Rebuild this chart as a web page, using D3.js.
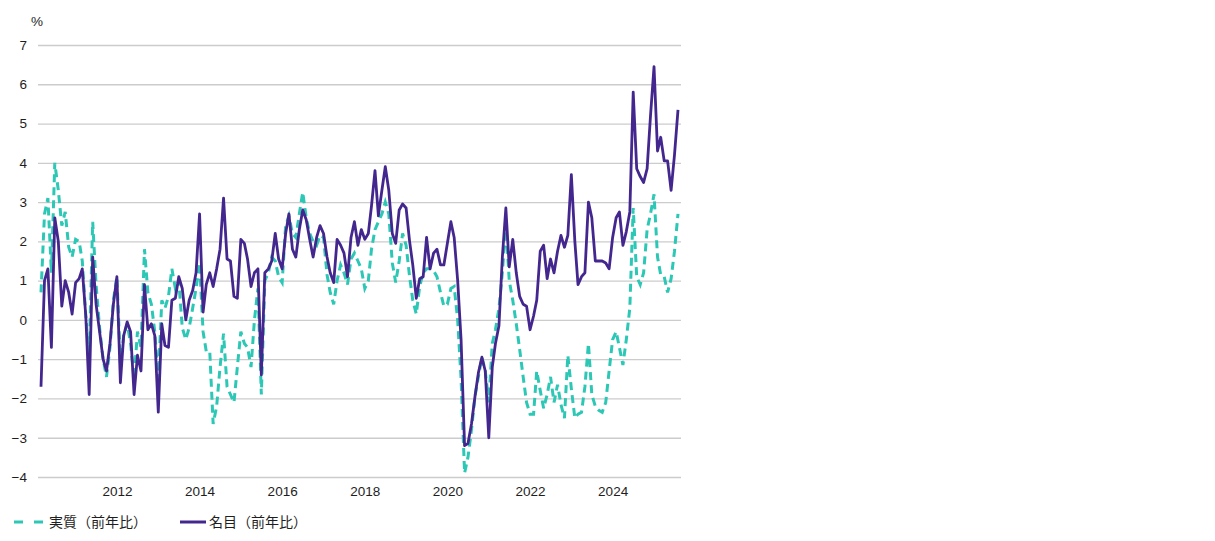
<!DOCTYPE html>
<html>
<head>
<meta charset="utf-8">
<script src="https://cdn.jsdelivr.net/npm/d3@7"></script>
<style>
  html, body { margin: 0; padding: 0; background: #fff; }
  svg { display: block; }
  text { font-family: "Liberation Sans", Arial, sans-serif; }
  .jp { font-family: "Noto Sans CJK JP", "Liberation Sans", sans-serif; }
</style>
</head>
<body>
<svg id="chart" width="1215" height="541"></svg>
<script>
// ---- data ----
const startMonth = "2010-03";   // first monthly observation
const realYoY = [ // 実質（前年比）
  0.7, 2.7, 3.1, 1.2, 4.0, 3.3, 2.4, 2.75, 1.85, 1.6,
  2.05, 2.0, 1.5, 0.1, -0.95, 2.5, 0.9, -0.2, -1.0, -1.45,
  -0.7, 0.5, 1.1, -1.1, -0.4, -0.1, -0.6, -1.5, -0.3, -0.7,
  1.8, 0.7, 0.4, -0.3, -1.5, 0.5, 0.3, 0.6, 1.3, 0.8,
  1.0, -0.2, -0.5, -0.2, 0.3, 0.8, 1.45, -0.3, -0.8, -0.8,
  -2.65, -2.2, -1.2, -0.35, -1.7, -1.9, -2.1, -1.2, -0.3, -0.6,
  -0.7, -1.2, 0.0, 0.8, -1.9, 1.0, 1.2, 1.6, 1.5, 1.1,
  0.95, 2.4, 2.65, 2.2, 2.1, 2.7, 3.25, 2.6, 2.2, 2.0,
  1.9, 2.15, 2.1, 1.15, 0.7, 0.4, 1.0, 1.4, 1.2, 0.9,
  1.55, 1.7, 1.5, 1.3, 0.8, 1.0, 1.8, 2.3, 2.5, 2.7,
  3.0, 2.7, 1.45, 0.95, 1.5, 2.2, 1.9, 1.1, 0.5, 0.15,
  0.85, 1.2, 1.3, 1.3, 1.25, 1.1, 0.7, 0.35, 0.4, 0.8,
  0.85, 0.0, -1.5, -3.9, -3.5, -2.8, -1.95, -1.45, -0.95, -1.3,
  -2.1, -0.6, -0.25, 0.3, 1.2, 2.45, 1.0, 0.5, -0.1, -0.75,
  -1.45, -2.1, -2.4, -2.4, -1.3, -1.8, -2.25, -1.9, -1.45, -2.1,
  -1.65, -2.15, -2.5, -0.9, -1.75, -2.5, -2.4, -2.35, -1.7, -0.6,
  -1.9, -2.2, -2.3, -2.35, -2.1, -1.3, -0.5, -0.3, -0.7, -1.15,
  -0.5, 0.3, 2.85, 1.1, 0.9, 1.2, 2.3, 2.7, 3.2, 1.6,
  1.15, 1.1, 0.7, 1.05, 1.75, 2.7
];
const nominalYoY = [ // 名目（前年比）
  -1.7, 1.0, 1.3, -0.7, 2.6, 2.0, 0.35, 1.0, 0.7, 0.15,
  0.95, 1.05, 1.3, 0.1, -1.9, 1.6, 0.4, -0.3, -1.0, -1.3,
  -0.6, 0.4, 1.1, -1.6, -0.4, -0.05, -0.3, -1.9, -0.9, -1.3,
  0.9, -0.25, -0.1, -0.4, -2.35, -0.1, -0.65, -0.7, 0.5, 0.55,
  1.1, 0.8, 0.0, 0.5, 0.75, 1.2, 2.7, 0.2, 0.9, 1.2,
  0.85, 1.3, 1.8, 3.1, 1.55, 1.5, 0.6, 0.55, 2.05, 1.95,
  1.55, 0.85, 1.2, 1.3, -1.4, 1.2, 1.3, 1.5, 2.2, 1.55,
  1.3, 2.2, 2.7, 1.8, 1.6, 2.3, 2.8, 2.55, 2.05, 1.6,
  2.1, 2.4, 2.2, 1.6, 1.2, 0.95, 2.05, 1.9, 1.7, 1.1,
  2.1, 2.5, 1.9, 2.3, 2.05, 2.2, 2.9, 3.8, 2.65, 3.3,
  3.9, 3.3, 2.2, 1.95, 2.8, 2.95, 2.85, 2.0, 1.4, 0.55,
  1.05, 1.1, 2.1, 1.3, 1.7, 1.8, 1.4, 1.4, 1.95, 2.5,
  2.1, 1.0, -0.5, -3.2, -3.15, -2.65, -1.95, -1.35, -0.95, -1.3,
  -3.0, -1.2, -0.6, -0.15, 1.6, 2.85, 1.35, 2.05, 1.2, 0.6,
  0.4, 0.35, -0.25, 0.1, 0.5, 1.75, 1.9, 1.05, 1.55, 1.2,
  1.75, 2.15, 1.85, 2.15, 3.7, 2.0, 0.9, 1.1, 1.2, 3.0,
  2.6, 1.5, 1.5, 1.5, 1.45, 1.3, 2.1, 2.6, 2.75, 1.9,
  2.25, 2.75, 5.8, 3.85, 3.65, 3.5, 3.85, 5.2, 6.45, 4.3,
  4.65, 4.05, 4.05, 3.3, 4.2, 5.35
];
const yTicks = [7, 6, 5, 4, 3, 2, 1, 0, -1, -2, -3, -4];
const xTickYears = [2012, 2014, 2016, 2018, 2020, 2022, 2024];
const seriesNames = ["実質（前年比）", "名目（前年比）"];
const unitLabel = "%";

// ---- layout ----
const svg = d3.select("#chart");
const colors = { real: "#2cc7b5", nominal: "#43278e", grid: "#cccccc", text: "#1e1e1e" };
const parse = d3.timeParse("%Y-%m");
const t0 = parse(startMonth);
const dates = realYoY.map((_, i) => d3.timeMonth.offset(t0, i));

const x = d3.scaleTime()
  .domain([dates[0], dates[dates.length - 1]])
  .range([41, 678]);
const y = d3.scaleLinear().domain([-4, 7]).range([477, 45]);

// grid lines
const gY = svg.append("g")
  .attr("transform", "translate(38,0)")
  .call(d3.axisLeft(y).tickValues(yTicks).tickSize(-643).tickFormat(d3.format("d")).tickPadding(11));
gY.select(".domain").remove();
gY.selectAll(".tick line").attr("stroke", colors.grid).attr("stroke-width", 1.3);
gY.selectAll(".tick text").attr("fill", colors.text).style("font-size", "13.5px")
  .style("font-family", "'Liberation Sans', Arial, sans-serif");

// x axis labels
const gX = svg.append("g")
  .attr("transform", "translate(0,477)")
  .call(d3.axisBottom(x).tickValues(xTickYears.map(yy => new Date(yy, 0, 1)))
    .tickSize(0).tickPadding(9).tickFormat(d3.timeFormat("%Y")));
gX.select(".domain").remove();
gX.selectAll(".tick text").attr("fill", colors.text).style("font-size", "13.5px")
  .style("font-family", "'Liberation Sans', Arial, sans-serif");

// unit label
svg.append("text").attr("x", 31).attr("y", 26).attr("fill", colors.text)
  .style("font-size", "13.5px").text(unitLabel);

// lines
const line = d3.line().x((d, i) => x(dates[i])).y(d => y(d)).curve(d3.curveLinear);

svg.append("path").datum(realYoY)
  .attr("d", line).attr("fill", "none")
  .attr("stroke", colors.real).attr("stroke-width", 3)
  .attr("stroke-dasharray", "8,5");

svg.append("path").datum(nominalYoY)
  .attr("d", line).attr("fill", "none")
  .attr("stroke", colors.nominal).attr("stroke-width", 2.8)
  .attr("stroke-linejoin", "round");

// legend
const lg = svg.append("g").attr("transform", "translate(0,522)");
lg.append("line").attr("x1", 14).attr("x2", 46).attr("y1", 0).attr("y2", 0)
  .attr("stroke", colors.real).attr("stroke-width", 3).attr("stroke-dasharray", "9,11");
lg.append("text").attr("class", "jp").attr("x", 49).attr("y", 5)
  .attr("fill", colors.text).style("font-size", "14px").text(seriesNames[0]);
lg.append("line").attr("x1", 180).attr("x2", 206).attr("y1", 0).attr("y2", 0)
  .attr("stroke", colors.nominal).attr("stroke-width", 3);
lg.append("text").attr("class", "jp").attr("x", 209).attr("y", 5)
  .attr("fill", colors.text).style("font-size", "14px").text(seriesNames[1]);
</script>
</body>
</html>
